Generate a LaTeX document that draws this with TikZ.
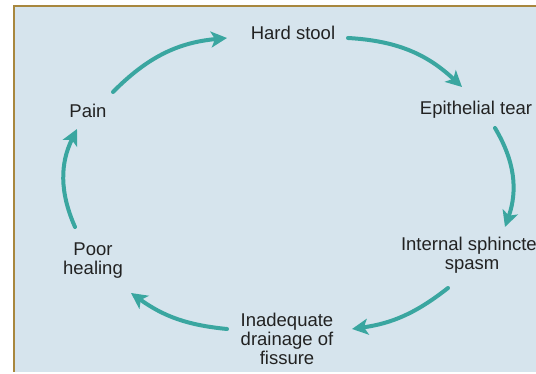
\documentclass[tikz,border=0pt]{standalone}
\usepackage{fontspec}
\setmainfont{Liberation Sans}
\usetikzlibrary{arrows.meta}
\definecolor{panelblue}{HTML}{D6E4ED}
\definecolor{framebrown}{HTML}{A8873E}
\definecolor{arrowteal}{HTML}{3AA6A0}
\definecolor{labelgrey}{HTML}{222222}
\tikzstyle{stage}=[align=center, text=labelgrey, font=\fontsize{18.5}{19}\selectfont, inner sep=1pt]
\tikzstyle{cycle arrow}=[draw=arrowteal, line width=4pt, line cap=round,
  -{Stealth[length=16pt, width=16pt, inset=4pt]}, bend left=20]

\begin{document}
\begin{tikzpicture}[x=1pt, y=1pt]
      \useasboundingbox (0, 0) rectangle (536, 374);
      \fill[panelblue] (14, 2) rectangle (536, 368);
      \draw[framebrown, line width=2pt] (14, 2) -- (14, 368) -- (536, 368);

      \node[stage] (hard) at (293, 341) {Hard stool};
      \node[stage] (tear) at (476, 264) {Epithelial tear};
      \node[stage] (spasm) at (472, 119) {Internal sphincter\\spasm};
      \node[stage] (drain) at (287, 35) {Inadequate\\drainage of\\fissure};
      \node[stage] (heal) at (93, 113) {Poor\\healing};
      \node[stage] (pain) at (88, 263) {Pain};

      \coordinate (pain_out) at (113, 282);
      \coordinate (hard_in) at (227, 336);
      \coordinate (hard_out) at (348, 336);
      \coordinate (tear_in) at (462, 287);
      \coordinate (tear_out) at (495, 246);
      \coordinate (spasm_in) at (505, 147);
      \coordinate (spasm_out) at (448, 86);
      \coordinate (drain_in) at (352, 45);
      \coordinate (drain_out) at (227, 45);
      \coordinate (heal_in) at (131, 81);
      \coordinate (heal_out) at (75, 147);
      \coordinate (pain_in) at (77, 245);

      \draw[cycle arrow] (pain_out) to (hard_in);
      \draw[cycle arrow] (hard_out) to (tear_in);
      \draw[cycle arrow, bend left=25] (tear_out) to (spasm_in);
      \draw[cycle arrow, bend left=15] (spasm_out) to (drain_in);
      \draw[cycle arrow, bend left=15] (drain_out) to (heal_in);
      \draw[cycle arrow, bend left=25] (heal_out) to (pain_in);
    \end{tikzpicture}
\end{document}
